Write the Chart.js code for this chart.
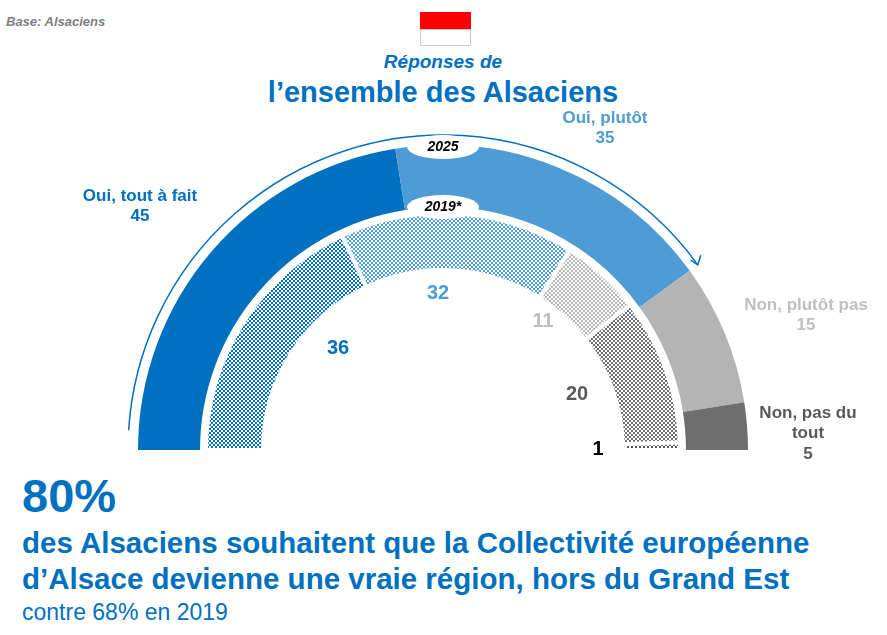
<!DOCTYPE html>
<html><head><meta charset="utf-8">
<script src="https://cdn.jsdelivr.net/npm/chart.js@4/dist/chart.umd.min.js"></script>
<style>
body{margin:0;width:887px;height:635px;background:#fff;font-family:"Liberation Sans",Arial,sans-serif;position:relative;overflow:hidden}
.t{position:absolute;text-align:center;font-weight:bold;line-height:1.2}
#wrap{position:absolute;left:123px;top:130px;width:640px;height:320px}
</style></head><body>
<div class="t" style="left:6px;top:14px;font-size:13px;color:#7f7f7f;font-style:italic">Base: Alsaciens</div>
<div style="position:absolute;left:420px;top:12px;width:51px;height:17px;background:#ff0000"></div>
<div style="position:absolute;left:420px;top:29px;width:49px;height:15px;border:1px solid #ccc;background:#fff"></div>
<div class="t" style="left:343px;width:200px;top:51px;font-size:19px;color:#0070c0;font-style:italic">Réponses de</div>
<div class="t" style="left:193px;width:500px;top:75px;font-size:29px;color:#0070c0">l’ensemble des Alsaciens</div>
<div id="wrap"><canvas id="c"></canvas></div>
<div id="labels"></div>
<div class="t" style="left:22px;top:468px;font-size:47px;color:#0070c0;text-align:left">80%</div>
<div class="t" style="left:22px;top:525px;font-size:29.5px;color:#0070c0;text-align:left;line-height:1.22">des Alsaciens souhaitent que la Collectivité européenne<br>d’Alsace devienne une vraie région, hors du Grand Est</div>
<div style="position:absolute;left:22px;top:599px;font-size:23px;color:#0070c0">contre 68% en 2019</div>
<script>
var categories2025 = ["Oui, tout à fait", "Oui, plutôt", "Non, plutôt pas", "Non, pas du tout"];
var values2025 = [45, 35, 15, 5];
var values2019 = [36, 32, 11, 20, 1];
var colors2025 = ["#0070c0", "#4f9bd5", "#b4b4b4", "#6e6e6e"];
var colors2019 = ["#0070c0", "#4f9bd5", "#b4b4b4", "#6e6e6e", "#555555"];

function checker(col) {
  var p = document.createElement("canvas");
  p.width = 4; p.height = 4;
  var g = p.getContext("2d");
  g.fillStyle = "#fff"; g.fillRect(0, 0, 4, 4);
  g.fillStyle = col;
  g.fillRect(0, 0, 2, 2); g.fillRect(2, 2, 2, 2);
  return g.createPattern(p, "repeat");
}

var arrowPlugin = {
  id: "arrow",
  afterDraw: function(chart) {
    var m = chart.getDatasetMeta(0).data[0];
    var ctx = chart.ctx, r = m.outerRadius + 10;
    var end = -Math.PI * 0.2;
    ctx.save();
    ctx.strokeStyle = "#0070c0"; ctx.lineWidth = 1.5;
    ctx.beginPath(); ctx.arc(m.x, m.y, r, Math.PI * 1.02, Math.PI * 2 + end); ctx.stroke();
    var ex = m.x + r * Math.cos(end), ey = m.y + r * Math.sin(end);
    ctx.translate(ex, ey); ctx.rotate(end + Math.PI / 2);
    ctx.beginPath(); ctx.moveTo(-6, -8); ctx.lineTo(0, 0); ctx.lineTo(-8, 3); ctx.stroke();
    ctx.restore();
    [["2025", m.y - m.outerRadius + 2], ["2019*", m.y - m.outerRadius + 62]].forEach(function(p) {
      ctx.save();
      ctx.fillStyle = "#fff";
      ctx.beginPath(); ctx.ellipse(m.x, p[1], 36, 12, 0, 0, Math.PI * 2); ctx.fill();
      ctx.fillStyle = "#000"; ctx.font = "italic bold 14px 'Liberation Sans'";
      ctx.textAlign = "center"; ctx.textBaseline = "middle";
      ctx.fillText(p[0], m.x, p[1]);
      ctx.restore();
    });
  }
};

new Chart(document.getElementById("c"), {
  type: "doughnut",
  data: {
    labels: categories2025,
    datasets: [
      { data: values2025, backgroundColor: colors2025, borderWidth: 0, weight: 62 },
      { data: [1], backgroundColor: "rgba(0,0,0,0)", borderWidth: 0, weight: 6 },
      { data: values2019, backgroundColor: colors2019.map(checker), borderColor: "#fff", borderWidth: 4, weight: 57 }
    ]
  },
  options: {
    responsive: true, maintainAspectRatio: false, animation: false,
    rotation: -90, circumference: 180, cutout: "59%",
    layout: { padding: { left: 15, right: 15, top: 15, bottom: 0 } },
    plugins: { legend: { display: false }, tooltip: { enabled: false } }
  },
  plugins: [arrowPlugin]
});

var labels = [
  [categories2025[0] + "<br>" + values2025[0], 40, 186, 200, "#0070c0", 17],
  [categories2025[1] + "<br>" + values2025[1], 505, 108, 200, "#4f9bd5", 17],
  [categories2025[2] + "<br>" + values2025[2], 706, 295, 200, "#c0c0c0", 17],
  ["Non, pas du<br>tout<br>" + values2025[3], 708, 403, 200, "#595959", 17],
  [values2019[0], 298, 335, 80, "#0070c0", 20],
  [values2019[1], 398, 280, 80, "#4f9bd5", 20],
  [values2019[2], 503, 308, 80, "#bdbdbd", 20],
  [values2019[3], 537, 381, 80, "#595959", 20],
  [values2019[4], 558, 436, 80, "#000", 20]
];
var box = document.getElementById("labels");
labels.forEach(function(l) {
  var d = document.createElement("div");
  d.className = "t";
  d.style.cssText = "left:" + l[1] + "px;top:" + l[2] + "px;width:" + l[3] + "px;color:" + l[4] + ";font-size:" + l[5] + "px";
  d.innerHTML = l[0];
  box.appendChild(d);
});
</script>
</body></html>
